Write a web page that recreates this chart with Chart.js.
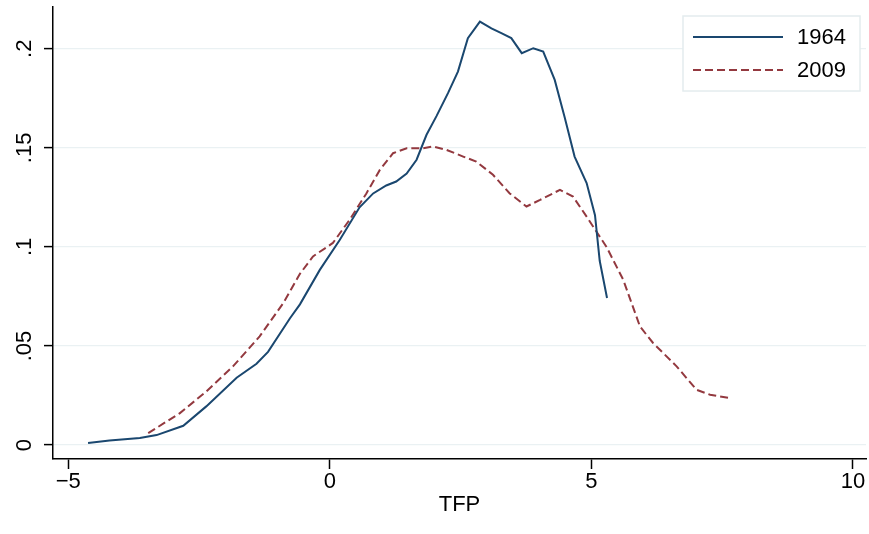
<!DOCTYPE html>
<html>
<head>
<meta charset="utf-8">
<script src="https://cdn.jsdelivr.net/npm/chart.js@4.4.1/dist/chart.umd.min.js"></script>
<style>
  html, body { margin: 0; padding: 0; background: #ffffff; }
  #wrap { width: 869px; height: 534px; position: relative; }
</style>
</head>
<body>
<div id="wrap"><canvas id="c" width="869" height="534"></canvas></div>
<script>
// ---- data (kernel density of TFP) ----
const seriesLabels = ["1964", "2009"];
const tfp1964 = [-4.62, -4.21, -3.63, -3.31, -2.80, -2.36, -1.78, -1.40, -1.18, -0.76, -0.57, -0.19, 0.19, 0.57, 0.83, 1.08, 1.27, 1.47, 1.66, 1.85, 2.04, 2.26, 2.45, 2.64, 2.87, 3.09, 3.28, 3.47, 3.67, 3.89, 4.08, 4.30, 4.49, 4.68, 4.91, 5.07, 5.16, 5.30];
const dens1964 = [0.0010, 0.0023, 0.0035, 0.0050, 0.0097, 0.0195, 0.0340, 0.0410, 0.0470, 0.0640, 0.0710, 0.0884, 0.1035, 0.1200, 0.1270, 0.1310, 0.1330, 0.1370, 0.1440, 0.1566, 0.1660, 0.1776, 0.1885, 0.2054, 0.2137, 0.2103, 0.2079, 0.2054, 0.1978, 0.2003, 0.1986, 0.1843, 0.1654, 0.1456, 0.1322, 0.1160, 0.0930, 0.0742];
const tfp2009 = [-3.47, -2.87, -2.36, -1.85, -1.34, -0.89, -0.57, -0.32, 0.06, 0.38, 0.70, 0.96, 1.21, 1.47, 1.78, 1.98, 2.23, 2.55, 2.80, 3.12, 3.44, 3.76, 4.02, 4.40, 4.65, 4.91, 5.16, 5.29, 5.61, 5.93, 6.18, 6.63, 7.01, 7.27, 7.65];
const dens2009 = [0.0060, 0.0160, 0.0270, 0.0397, 0.0548, 0.0716, 0.0864, 0.0952, 0.1020, 0.1137, 0.1270, 0.1390, 0.1473, 0.1498, 0.1498, 0.1507, 0.1490, 0.1456, 0.1431, 0.1364, 0.1270, 0.1204, 0.1237, 0.1288, 0.1254, 0.1153, 0.1052, 0.1000, 0.0834, 0.0598, 0.0515, 0.0397, 0.0279, 0.0254, 0.0237];
const xTicks = [-5, 0, 5, 10];
const yTicks = [0, 0.05, 0.1, 0.15, 0.2];
const xTitle = "TFP";

const colors = ["#1a476f", "#93393f"];
const FONT = "'Liberation Sans', Arial, sans-serif";

function pts(xs, ys) { return xs.map((x, i) => ({ x: x, y: ys[i] })); }
function fmtY(v) {
  if (Math.abs(v) < 1e-9) return "0";
  let s = String(Math.round(v * 1000) / 1000);
  return s.replace(/^0\./, ".");
}
function fmtX(v) { return v < 0 ? "\u2212" + Math.abs(v) : String(v); }

const yLabelPlugin = {
  id: "yLabels",
  afterDraw(chart) {
    const ctx = chart.ctx, y = chart.scales.y;
    ctx.save();
    ctx.fillStyle = "#000";
    ctx.font = "22px " + FONT;
    ctx.textAlign = "center";
    ctx.textBaseline = "middle";
    yTicks.forEach(v => {
      const py = y.getPixelForValue(v);
      ctx.save();
      ctx.translate(25, py);
      ctx.rotate(-Math.PI / 2);
      ctx.fillText(fmtY(v), 0, 0);
      ctx.restore();
    });
    ctx.restore();
  }
};

const legendPlugin = {
  id: "boxLegend",
  afterDraw(chart) {
    const ctx = chart.ctx;
    const bx = 683, by = 16, bw = 177, bh = 75;
    ctx.save();
    ctx.fillStyle = "#ffffff";
    ctx.fillRect(bx, by, bw, bh);
    ctx.strokeStyle = "#e4ecee";
    ctx.lineWidth = 1.5;
    ctx.strokeRect(bx, by, bw, bh);
    chart.data.datasets.forEach((ds, i) => {
      const ly = 37 + i * 33;
      ctx.beginPath();
      ctx.strokeStyle = ds.borderColor;
      ctx.lineWidth = ds.borderWidth;
      ctx.setLineDash(ds.borderDash || []);
      ctx.moveTo(693, ly);
      ctx.lineTo(783, ly);
      ctx.stroke();
      ctx.setLineDash([]);
      ctx.fillStyle = "#000";
      ctx.font = "22px " + FONT;
      ctx.textAlign = "left";
      ctx.textBaseline = "middle";
      ctx.fillText(ds.label, 797, ly + 1);
    });
    ctx.restore();
  }
};

new Chart(document.getElementById("c"), {
  type: "line",
  data: {
    datasets: [
      { label: seriesLabels[0], data: pts(tfp1964, dens1964), borderColor: colors[0], borderWidth: 2, pointRadius: 0, tension: 0, fill: false },
      { label: seriesLabels[1], data: pts(tfp2009, dens2009), borderColor: colors[1], borderWidth: 2, borderDash: [8, 4], pointRadius: 0, tension: 0, fill: false }
    ]
  },
  options: {
    responsive: false,
    animation: false,
    devicePixelRatio: 1,
    layout: { padding: { top: 7, right: 3, left: 0, bottom: 0 } },
    plugins: { legend: { display: false }, tooltip: { enabled: false } },
    scales: {
      x: {
        type: "linear",
        min: -5.29, max: 10.25,
        afterBuildTicks: s => { s.ticks = xTicks.map(v => ({ value: v })); },
        afterFit: s => { s.height = 75; },
        border: { display: true, color: "#000", width: 1.5 },
        grid: { display: true, drawOnChartArea: false, drawTicks: true, tickLength: 10, tickColor: "#000", tickWidth: 1.5 },
        ticks: { color: "#000", padding: 0, maxRotation: 0, autoSkip: false, font: { size: 22, family: FONT }, callback: v => fmtX(v) },
        title: { display: true, text: xTitle, color: "#000", font: { size: 22, family: FONT }, padding: { top: 0, bottom: 16 } }
      },
      y: {
        type: "linear",
        min: -0.00706, max: 0.2211,
        afterBuildTicks: s => { s.ticks = yTicks.map(v => ({ value: v })); },
        afterFit: s => { s.width = 53; },
        border: { display: true, color: "#000", width: 1.5 },
        grid: { display: true, color: "#eaf1f3", lineWidth: 1.2, drawTicks: true, tickLength: 9, tickColor: "#000", tickWidth: 1.5 },
        ticks: { display: false, padding: 0 }
      }
    }
  },
  plugins: [yLabelPlugin, legendPlugin]
});
</script>
</body>
</html>
